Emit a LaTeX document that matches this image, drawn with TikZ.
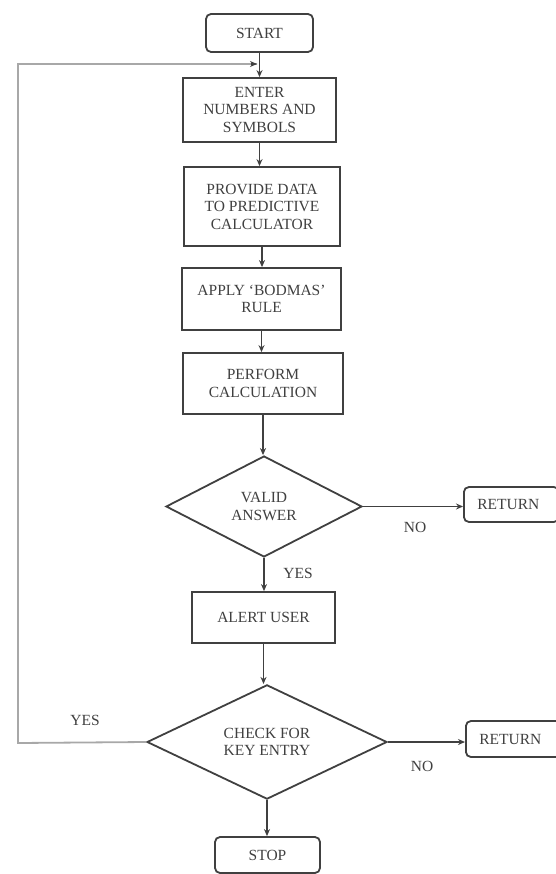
\documentclass[tikz,border=0pt]{standalone}
\usepackage{fontspec}
\setmainfont{Liberation Serif}
\usetikzlibrary{shapes.geometric,arrows.meta}
\definecolor{txt}{HTML}{404040}
\definecolor{ln}{HTML}{404040}
\definecolor{loopc}{HTML}{A8A8A8}
\begin{document}
\begin{tikzpicture}[x=1pt,y=-1pt,
  every node/.style={font=\fontsize{15.5}{17.5}\selectfont, text=txt},
  procbox/.style={draw=ln, line width=1.8pt, rectangle, inner sep=0pt, align=center},
  termbox/.style={draw=ln, line width=1.8pt, rectangle, rounded corners=5pt, inner sep=0pt, align=center},
  decbox/.style={draw=ln, line width=1.8pt, diamond, inner sep=0pt, align=center},
  flow/.style={draw=ln, line width=1.8pt, -{Stealth[length=7pt,width=6pt]}},
  lbl/.style={inner sep=0pt}]
\useasboundingbox (0,0) rectangle (555,874);
\fill[white] (0,0) rectangle (555,874);

\node[termbox, minimum width=107pt, minimum height=38pt] (start) at (259.5,33) {START};
\node[procbox, minimum width=153pt, minimum height=64pt] (enter) at (259.5,110) {ENTER\\NUMBERS AND\\SYMBOLS};
\node[procbox, minimum width=156pt, minimum height=79pt] (provide) at (262,206.5) {PROVIDE DATA\\TO PREDICTIVE\\CALCULATOR};
\node[procbox, minimum width=159pt, minimum height=62pt] (apply) at (261.5,299) {APPLY `BODMAS'\\RULE};
\node[procbox, minimum width=160pt, minimum height=61pt] (perform) at (263,383.5) {PERFORM\\CALCULATION};
\node[decbox, minimum width=196pt, minimum height=101pt] (valid) at (264,506.5) {VALID\\ANSWER};
\node[termbox, minimum width=95pt, minimum height=35pt, anchor=west] (ret1) at (463,504.5) {\hspace*{-6pt}RETURN};
\node[procbox, minimum width=143pt, minimum height=51pt] (alert) at (263.5,617.5) {ALERT USER};
\node[decbox, minimum width=240pt, minimum height=110pt] (check) at (267,742) {CHECK FOR\\KEY ENTRY};
\node[termbox, minimum width=95pt, minimum height=36pt, anchor=west] (ret2) at (465,739) {\hspace*{-6pt}RETURN};
\node[termbox, minimum width=105pt, minimum height=36pt] (stop) at (267.5,855) {STOP};

\node[lbl] (no1) at (415,527) {NO};
\node[lbl] (yes1) at (298,573) {YES};
\node[lbl] (no2) at (422,766) {NO};
\node[lbl] (yes2) at (85,720) {YES};

\coordinate (loopA) at (18,743);
\coordinate (loopB) at (18,64);
\coordinate (loopC) at (257,64);

\draw[flow] (start.south) -- (start.south |- enter.north);
\draw[flow] (enter.south) -- (enter.south |- provide.north);
\draw[flow] (provide.south) -- (provide.south |- apply.north);
\draw[flow] (apply.south) -- (apply.south |- perform.north);
\draw[flow] (perform.south) -- (perform.south |- valid.north);
\draw[flow] (valid.east) -- (valid.east -| ret1.west);
\draw[flow] (valid.south) -- (valid.south |- alert.north);
\draw[flow] (alert.south) -- (alert.south |- check.north);
\draw[flow] (check.east) -- (check.east -| ret2.west);
\draw[flow] (check.south) -- (check.south |- stop.north);
\draw[draw=loopc, line width=1.8pt] (check.west) -- (loopA) -- (loopB) -- (loopC);
\draw[flow] ([xshift=-6pt]loopC) -- (loopC);
\end{tikzpicture}
\end{document}
